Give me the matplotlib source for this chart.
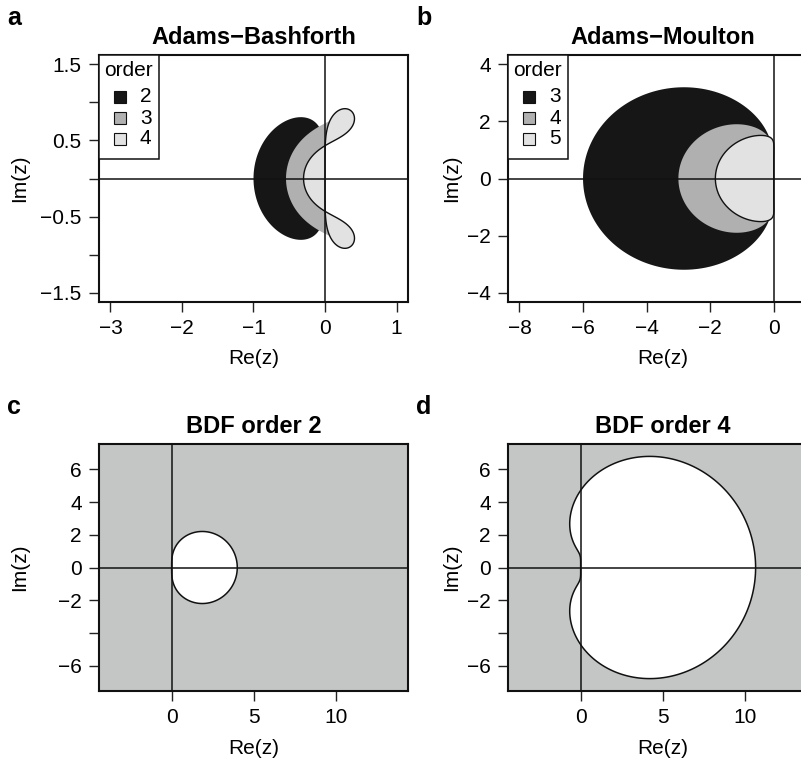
#!/usr/bin/env python3
# -*- coding: utf-8 -*-

import numpy as np
import matplotlib
matplotlib.use('Agg')
import matplotlib.pyplot as plt
from matplotlib.patches import Polygon, Rectangle

plt.rcParams['font.family'] = ['Liberation Sans', 'DejaVu Sans']

# Adams-Bashforth: beta coefficients (highest power of zeta first), rho = z^k - z^(k-1)
ab_orders = [2, 3, 4]
ab_beta = [
    [0, 3 / 2, -1 / 2],
    [0, 23 / 12, -16 / 12, 5 / 12],
    [0, 55 / 24, -59 / 24, 37 / 24, -9 / 24],
]

# Adams-Moulton (implicit), orders 3, 4, 5
am_orders = [3, 4, 5]
am_beta = [
    [5 / 12, 8 / 12, -1 / 12],
    [9 / 24, 19 / 24, -5 / 24, 1 / 24],
    [251 / 720, 646 / 720, -264 / 720, 106 / 720, -19 / 720],
]

# BDF: alpha coefficients (highest power first), sigma = zeta^k
bdf2_alpha = [3 / 2, -2, 1 / 2]
bdf4_alpha = [25 / 12, -4, 3, -4 / 3, 1 / 4]

fills = ['#161616', '#b0b0b0', '#e2e2e2']
bdf_bg = '#c4c6c5'

FS = 15
W, H = 801, 761
AW, AH = 309, 247
fig = plt.figure(figsize=(W / 100, H / 100), dpi=100)


def px_axes(left, top):
    return fig.add_axes([left / W, 1 - (top + AH) / H, AW / W, AH / H])


theta = np.linspace(0, 2 * np.pi, 2000)
zeta = np.exp(1j * theta)


def locus_adams(beta):
    k = len(beta) - 1
    rho = zeta ** k - zeta ** (k - 1)
    return rho / np.polyval(beta, zeta)


def locus_bdf(alpha):
    k = len(alpha) - 1
    return np.polyval(alpha, zeta) / zeta ** k


def style(ax, xlim, ylim, xt, yt, ylabs):
    ax.set_xlim(*xlim)
    ax.set_ylim(*ylim)
    ax.set_xticks(xt)
    ax.set_yticks(yt)
    ax.set_yticklabels(ylabs)
    ax.tick_params(labelsize=FS, length=7.5, width=1, pad=5, color='#222222')
    for s in ax.spines.values():
        s.set_linewidth(1.5)
        s.set_color('#111111')
    ax.axhline(0, color='#111111', lw=1.1, zorder=3)
    ax.axvline(0, color='#111111', lw=1.1, zorder=3)


def labels(ax, letter, title, ylab_x, reb_y):
    l, b, w, h = ax.get_position().bounds
    fig.text(l - 92 / W, b + h + 30 / H, letter, fontsize=18, fontweight='bold',
             ha='left', va='baseline')
    ax.set_title(title, fontsize=17, fontweight='bold', pad=8)
    fig.text(ylab_x / W, b + h / 2, 'Im(z)', rotation=90, fontsize=FS,
             ha='center', va='center')
    fig.text(l + (AW / 2) / W, 1 - reb_y / H, 'Re(z)', fontsize=FS,
             ha='center', va='center')


def order_key(ax, orders):
    # boxed key in the top-left corner, laid out in pixels from the corner
    def fx(px):
        return px / AW

    def fy(py):
        return 1 - py / AH

    ax.add_patch(Rectangle((0, fy(104)), fx(60), 104 / AH, transform=ax.transAxes,
                           facecolor='white', edgecolor='#111111', lw=1.1, zorder=5))
    ax.text(fx(5), fy(16), 'order', transform=ax.transAxes, fontsize=FS,
            ha='left', va='center', zorder=6)
    for i, (o, c) in enumerate(zip(orders, fills)):
        yc = 42 + 21 * i
        ax.add_patch(Rectangle((fx(15), fy(yc + 6)), fx(12), 12 / AH,
                               transform=ax.transAxes, facecolor=c,
                               edgecolor='#111111', lw=0.8, zorder=6))
        ax.text(fx(41), fy(yc), str(o), transform=ax.transAxes, fontsize=FS,
                ha='left', va='center', zorder=6)


def adams_panel(ax, betas, orders):
    for beta, col, last in zip(betas, fills, [False, False, True]):
        z = locus_adams(beta)
        pts = np.column_stack([z.real, z.imag])
        ax.add_patch(Polygon(pts, closed=True, facecolor=col,
                             edgecolor='#111111' if last else 'none',
                             lw=1.0, zorder=2))
    order_key(ax, orders)


def bdf_panel(ax, alpha):
    ax.set_facecolor(bdf_bg)
    z = locus_bdf(alpha)
    pts = np.column_stack([z.real, z.imag])
    ax.add_patch(Polygon(pts, closed=True, facecolor='white', edgecolor='#111111',
                         lw=1.1, zorder=2))


# a: Adams-Bashforth
ax_a = px_axes(99, 55)
adams_panel(ax_a, ab_beta, ab_orders)
style(ax_a, (-3.16, 1.16), (-1.62, 1.62), [-3, -2, -1, 0, 1],
      [-1.5, -1, -0.5, 0, 0.5, 1, 1.5],
      ['\u22121.5', '', '\u22120.5', '', '0.5', '', '1.5'])
labels(ax_a, 'a', 'Adams\u2212Bashforth', 20, 359)

# b: Adams-Moulton
ax_b = px_axes(508, 55)
adams_panel(ax_b, am_beta, am_orders)
style(ax_b, (-8.36, 1.36), (-4.32, 4.32), [-8, -6, -4, -2, 0],
      [-4, -2, 0, 2, 4], ['\u22124', '\u22122', '0', '2', '4'])
labels(ax_b, 'b', 'Adams\u2212Moulton', 452, 359)

# c, d: BDF
ylabs_bdf = ['\u22126', '', '\u22122', '0', '2', '4', '6']
ax_c = px_axes(99, 444)
bdf_panel(ax_c, bdf2_alpha)
style(ax_c, (-4.43, 14.41), (-7.55, 7.55), [0, 5, 10], [-6, -4, -2, 0, 2, 4, 6], ylabs_bdf)
labels(ax_c, 'c', 'BDF order 2', 20, 749)

ax_d = px_axes(508, 444)
bdf_panel(ax_d, bdf4_alpha)
style(ax_d, (-4.43, 14.41), (-7.55, 7.55), [0, 5, 10], [-6, -4, -2, 0, 2, 4, 6], ylabs_bdf)
labels(ax_d, 'd', 'BDF order 4', 452, 749)

fig.savefig('out.png', dpi=100)
